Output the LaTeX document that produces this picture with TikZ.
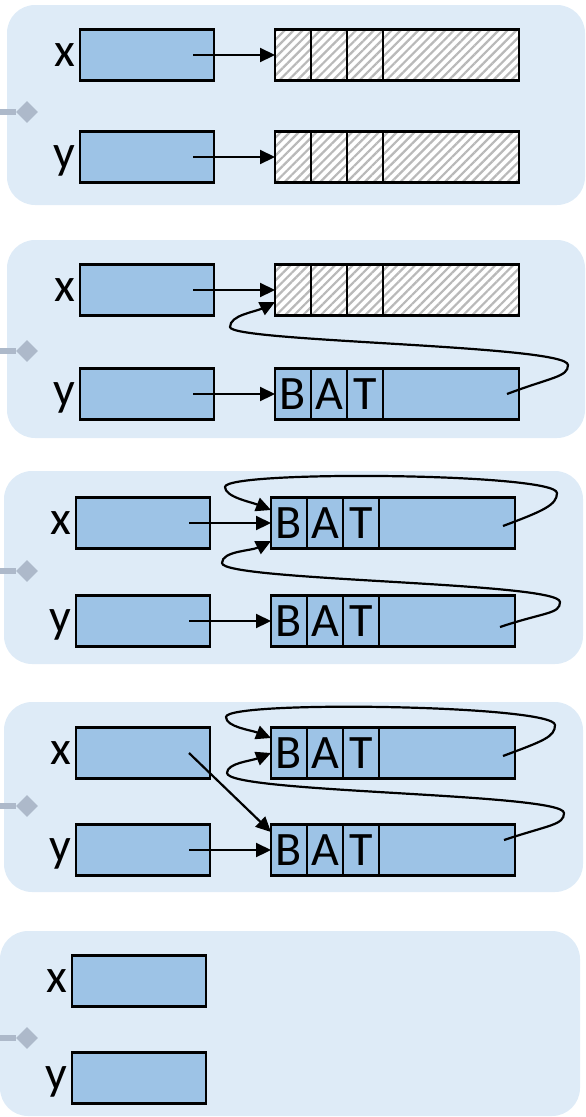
\documentclass[tikz,border=0pt]{standalone}
\usepackage{fontspec}
\setmainfont{Carlito}
\usepackage{tikz}
\usetikzlibrary{positioning,arrows.meta,patterns.meta,shapes.geometric}
\definecolor{panelbg}{RGB}{222,235,247}
\definecolor{boxblue}{RGB}{157,195,230}
\definecolor{tabgray}{RGB}{173,185,202}

\begin{document}
\begin{tikzpicture}[x=1pt, y=-1pt, >={Triangle[length=15pt,width=14pt]},
    panel/.style = {fill=panelbg, rounded corners=28pt},
    tab/.style = {diamond, fill=tabgray, inner sep=0pt, minimum size=22pt},
    tabline/.style = {tabgray, line width=6pt},
    var/.style = {draw, fill=boxblue, line width=2.7pt, minimum width=134pt, minimum height=51pt, inner sep=0pt, outer sep=0pt, anchor=west},
    lbl/.style = {font=\fontsize{48}{58}\selectfont, inner sep=5pt, text height=22pt, text depth=0pt},
    cellbase/.style = {draw, line width=2.7pt, minimum width=36pt, minimum height=51pt, inner sep=0pt, outer sep=0pt, font=\fontsize{48}{58}\selectfont},
    chr/.style = {cellbase, fill=boxblue},
    hatch/.style = {cellbase, preaction={fill=white}, pattern={Lines[angle=45,distance=6.3pt,line width=2.2pt]}, pattern color=gray!55},
    wide/.style = {minimum width=136pt},
    ptr/.style = {->, line width=2.2pt}]
    \useasboundingbox (0,0) rectangle (586,1117);

    % panels
    \path[panel] (7,5) rectangle (585,205);
    \path[panel] (7,240) rectangle (585,438);
    \path[panel] (4,471) rectangle (583,664);
    \path[panel] (4,702) rectangle (583,892);
    \path[panel] (0,931) rectangle (580,1116);

    % tabs on the left
    \coordinate (e1) at (0,112);  \node[tab] (d1) at (27,112) {};  \draw[tabline] (e1) -- (d1);
    \coordinate (e2) at (0,351);  \node[tab] (d2) at (27,351) {};  \draw[tabline] (e2) -- (d2);
    \coordinate (e3) at (0,571);  \node[tab] (d3) at (27,571) {};  \draw[tabline] (e3) -- (d3);
    \coordinate (e4) at (0,806);  \node[tab] (d4) at (27,806) {};  \draw[tabline] (e4) -- (d4);
    \coordinate (e5) at (0,1038); \node[tab] (d5) at (27,1038) {}; \draw[tabline] (e5) -- (d5);

    % panel 1
    \node[var] (x1) at (80,55) {};   \node[lbl, left=0pt of x1] (x1l) {x};
    \node[var] (y1) at (80,157) {};  \node[lbl, left=0pt of y1] (y1l) {y};
    \node[hatch, anchor=west] (x1h1) at (275,55) {};
    \node[hatch, right=0pt of x1h1] (x1h2) {}; \node[hatch, right=0pt of x1h2] (x1h3) {}; \node[hatch, wide, right=0pt of x1h3] (x1h4) {};
    \node[hatch, anchor=west] (y1h1) at (275,157) {};
    \node[hatch, right=0pt of y1h1] (y1h2) {}; \node[hatch, right=0pt of y1h2] (y1h3) {}; \node[hatch, wide, right=0pt of y1h3] (y1h4) {};
    \draw[ptr] ([xshift=-21pt]x1.east) -- (x1h1.west);
    \draw[ptr] ([xshift=-21pt]y1.east) -- (y1h1.west);

    % panel 2
    \node[var] (x2) at (80,290) {};  \node[lbl, left=0pt of x2] (x2l) {x};
    \node[var] (y2) at (80,394) {};  \node[lbl, left=0pt of y2] (y2l) {y};
    \node[hatch, anchor=west] (x2h1) at (275,290) {};
    \node[hatch, right=0pt of x2h1] (x2h2) {}; \node[hatch, right=0pt of x2h2] (x2h3) {}; \node[hatch, wide, right=0pt of x2h3] (x2h4) {};
    \node[chr, anchor=west] (y2b) at (275,394) {B};
    \node[chr, right=0pt of y2b] (y2a) {A}; \node[chr, right=0pt of y2a] (y2t) {T}; \node[chr, wide, right=0pt of y2t] (y2r) {};
    \draw[ptr] ([xshift=-21pt]x2.east) -- (x2h1.west);
    \draw[ptr] ([xshift=-21pt]y2.east) -- (y2b.west);
    \draw[ptr] ([xshift=-12pt]y2r.east) .. controls +(45,-17) and +(0,12) .. (568,365)
        .. controls +(0,-20) and +(0,15) .. (230,327)
        .. controls +(0,-12) and +(-20,10) .. ([yshift=-12pt]x2h1.west);

    % panel 3
    \node[var] (x3) at (76,523) {};  \node[lbl, left=0pt of x3] (x3l) {x};
    \node[var] (y3) at (76,621) {};  \node[lbl, left=0pt of y3] (y3l) {y};
    \node[chr, anchor=west] (x3b) at (271,523) {B};
    \node[chr, right=0pt of x3b] (x3a) {A}; \node[chr, right=0pt of x3a] (x3t) {T}; \node[chr, wide, right=0pt of x3t] (x3r) {};
    \node[chr, anchor=west] (y3b) at (271,621) {B};
    \node[chr, right=0pt of y3b] (y3a) {A}; \node[chr, right=0pt of y3a] (y3t) {T}; \node[chr, wide, right=0pt of y3t] (y3r) {};
    \draw[ptr] ([xshift=-21pt]x3.east) -- (x3b.west);
    \draw[ptr] ([xshift=-21pt]y3.east) -- (y3b.west);
    \draw[ptr] ([xshift=-12pt,yshift=-3pt]x3r.east) .. controls +(40,-15) and +(0,12) .. (557,493)
        .. controls +(0,-20) and +(0,-17) .. (225,487)
        .. controls +(0,10) and +(-20,-8) .. ([yshift=13pt]x3b.west);
    \draw[ptr] ([xshift=-15pt,yshift=-6pt]y3r.east) .. controls +(45,-15) and +(0,12) .. (560,602)
        .. controls +(0,-20) and +(0,18) .. (222,563)
        .. controls +(0,-12) and +(-20,10) .. ([yshift=-18pt]x3b.west);

    % panel 4
    \node[var] (x4) at (76,753) {};  \node[lbl, left=0pt of x4] (x4l) {x};
    \node[var] (y4) at (76,850) {};  \node[lbl, left=0pt of y4] (y4l) {y};
    \node[chr, anchor=west] (x4b) at (271,753) {B};
    \node[chr, right=0pt of x4b] (x4a) {A}; \node[chr, right=0pt of x4a] (x4t) {T}; \node[chr, wide, right=0pt of x4t] (x4r) {};
    \node[chr, anchor=west] (y4b) at (271,850) {B};
    \node[chr, right=0pt of y4b] (y4a) {A}; \node[chr, right=0pt of y4a] (y4t) {T}; \node[chr, wide, right=0pt of y4t] (y4r) {};
    \draw[ptr] ([xshift=-21pt]x4.east) -- ([yshift=18pt]y4b.west);
    \draw[ptr] ([xshift=-21pt]y4.east) -- (y4b.west);
    \draw[ptr] ([xshift=-12pt,yshift=-3pt]x4r.east) .. controls +(40,-15) and +(0,12) .. (555,725)
        .. controls +(0,-20) and +(0,-17) .. (226,717)
        .. controls +(0,10) and +(-20,-8) .. ([yshift=15pt]x4b.west);
    \draw[ptr] ([xshift=-11pt,yshift=10pt]y4r.east) .. controls +(45,-15) and +(0,12) .. (564,813)
        .. controls +(0,-20) and +(0,20) .. (227,773)
        .. controls +(0,-10) and +(-20,8) .. (x4b.west);

    % panel 5
    \node[var] (x5) at (72,981) {};  \node[lbl, left=0pt of x5] (x5l) {x};
    \node[var] (y5) at (72,1078) {}; \node[lbl, left=0pt of y5] (y5l) {y};
\end{tikzpicture}
\end{document}
